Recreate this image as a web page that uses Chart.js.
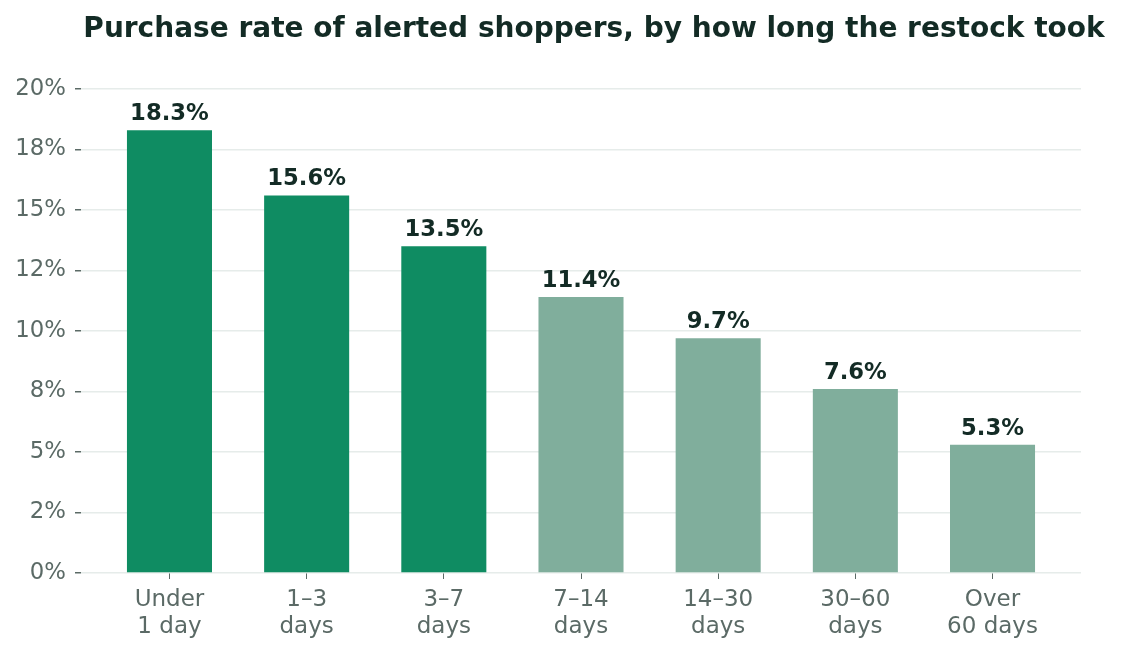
<!DOCTYPE html>
<html>
<head>
<meta charset="utf-8">
<script src="https://cdn.jsdelivr.net/npm/chart.js@4/dist/chart.umd.min.js"></script>
<style>
  html, body { margin: 0; padding: 0; background: #fff; }
  #wrap { width: 1122px; height: 658px; }
</style>
</head>
<body>
<div id="wrap"><canvas id="chart" width="1122" height="658"></canvas></div>
<script>
const titleText = 'Purchase rate of alerted shoppers, by how long the restock took';
const categories = ['Under\n1 day', '1–3\ndays', '3–7\ndays', '7–14\ndays', '14–30\ndays', '30–60\ndays', 'Over\n60 days'];
const purchaseRate = [18.3, 15.6, 13.5, 11.4, 9.7, 7.6, 5.3];
const fastGroup = [true, true, true, false, false, false, false];
const yTickValues = [0, 2.5, 5, 7.5, 10, 12.5, 15, 17.5, 20];
const yTickLabels = ['0%', '2%', '5%', '8%', '10%', '12%', '15%', '18%', '20%'];

const darkGreen = '#0f8c62';
const paleGreen = '#80ae9c';
const inkColor = '#132b25';
const tickGray = '#5b6a66';
const gridColor = '#e6ecea';
const fontFamily = '"DejaVu Sans", sans-serif';

// titre centré sur une position fixe
const titlePlugin = {
  id: 'titre',
  afterDraw(chart) {
    const ctx = chart.ctx;
    ctx.save();
    ctx.font = 'bold 28px ' + fontFamily;
    ctx.fillStyle = inkColor;
    ctx.textAlign = 'center';
    ctx.textBaseline = 'alphabetic';
    ctx.fillText(titleText, 594, 37);
    ctx.restore();
  }
};

// étiquettes de valeur au-dessus des barres
const valueLabels = {
  id: 'valeurs',
  afterDatasetsDraw(chart) {
    const ctx = chart.ctx;
    const meta = chart.getDatasetMeta(0);
    ctx.save();
    ctx.font = 'bold 22.7px ' + fontFamily;
    ctx.fillStyle = inkColor;
    ctx.textAlign = 'center';
    ctx.textBaseline = 'alphabetic';
    meta.data.forEach((bar, i) => {
      ctx.fillText(purchaseRate[i].toFixed(1) + '%', bar.x, bar.y - 10);
    });
    ctx.restore();
  }
};

const points = purchaseRate.map((v, i) => ({ x: i, y: v }));

new Chart(document.getElementById('chart'), {
  type: 'bar',
  data: {
    datasets: [{
      data: points,
      backgroundColor: fastGroup.map(f => f ? darkGreen : paleGreen),
      borderWidth: 0,
      categoryPercentage: 1,
      barPercentage: 0.62
    }]
  },
  options: {
    responsive: false,
    animation: false,
    layout: { padding: { top: 89, right: 41, left: 0, bottom: 0 } },
    plugins: {
      legend: { display: false },
      title: { display: false },
      tooltip: { enabled: false }
    },
    scales: {
      x: {
        type: 'linear',
        offset: false,
        min: -0.645,
        max: 6.645,
        afterBuildTicks(scale) {
          scale.ticks = categories.map((c, i) => ({ value: i }));
        },
        afterFit(scale) { scale.height = 85; },
        ticks: {
          autoSkip: false,
          maxRotation: 0,
          padding: 8,
          color: tickGray,
          font: { family: fontFamily, size: 23, lineHeight: 1.16 },
          callback: (v, i) => categories[i].split('\n')
        },
        grid: {
          offset: false,
          drawOnChartArea: false,
          drawTicks: true,
          tickLength: 6,
          tickColor: tickGray
        },
        border: { display: false }
      },
      y: {
        min: 0,
        max: 20,
        afterBuildTicks(scale) {
          scale.ticks = yTickValues.map(v => ({ value: v }));
        },
        afterFit(scale) { scale.width = 81; },
        ticks: {
          padding: 9,
          color: tickGray,
          font: { family: fontFamily, size: 22.8 },
          callback: (v, i) => yTickLabels[i]
        },
        grid: {
          color: gridColor,
          lineWidth: 1.5,
          tickLength: 6,
          tickColor: tickGray
        },
        border: { display: false }
      }
    }
  },
  plugins: [titlePlugin, valueLabels]
});
</script>
</body>
</html>
